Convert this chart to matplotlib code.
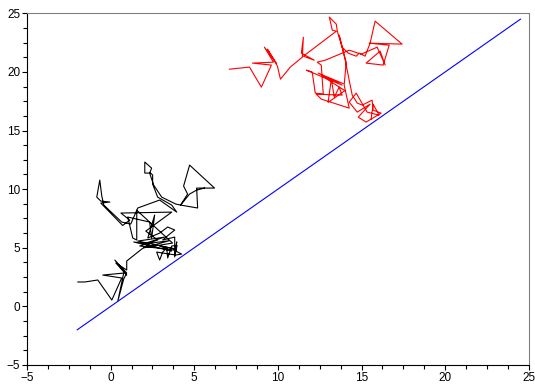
import numpy as np
import matplotlib
matplotlib.use("Agg")
import matplotlib.pyplot as plt
from matplotlib.ticker import MultipleLocator

plt.rcParams["font.family"] = ["Liberation Sans", "DejaVu Sans"]

# black walk
black_x = [-1.96, -1.54, -0.77, 0.07, 0.66, -0.47, 0.78, 0.43, 0.78, 0.96,
           0.25, 0.96, 0.31, 0.96, 0.96, 1.86, 2.33, 1.38, 3.65, 2.93,
           3.89, 1.62, 3.20, 1.90, 3.50, 2.00, 3.70, 1.56, 1.56, 1.32,
           1.02, 2.33, 2.45, 2.63, 2.22, 2.93, 3.41, 3.83, 3.53, 3.11,
           3.83, 3.83, 3.95, 3.85, 3.97, 3.65, 3.41, 3.35, 3.11, 2.93,
           2.75, 3.89, 4.24, 3.77, 1.74, 2.81, 2.10, 3.65, 0.61, 1.14,
           0.72, -0.59, -0.05, -0.59, -0.83, -0.65, -0.53, -0.41, 0.66, 1.20,
           1.62, 2.93, 3.95, 3.65, 2.81, 2.51, 2.51, 2.39, 2.04, 2.04,
           2.45, 2.33, 2.57, 3.05, 3.89, 4.18, 4.60, 4.36, 4.72, 6.21,
           5.14, 5.20, 4.18, 4.72, 5.14, 5.61]
black_y = [2.08, 2.08, 2.25, 0.54, 2.42, 2.67, 2.84, 0.46, 2.33, 2.84,
           3.95, 2.67, 3.70, 3.10, 3.87, 4.89, 5.32, 5.49, 4.72, 5.15,
           4.89, 5.57, 5.90, 5.30, 5.60, 5.00, 5.40, 8.20, 5.66, 5.83,
           7.62, 7.19, 5.83, 7.79, 5.83, 6.25, 6.77, 6.51, 6.17, 5.66,
           5.91, 4.21, 5.50, 4.40, 5.20, 5.15, 4.13, 4.98, 4.63, 3.95,
           4.63, 4.38, 4.46, 4.81, 5.15, 5.66, 6.42, 8.04, 7.96, 7.36,
           6.90, 8.81, 8.90, 8.98, 9.32, 10.77, 9.41, 8.64, 7.19, 7.02,
           8.39, 9.07, 8.04, 8.64, 9.32, 10.43, 11.20, 11.37, 11.37, 12.31,
           11.79, 11.37, 10.35, 9.32, 8.73, 8.64, 9.58, 10.26, 12.05, 10.09,
           10.09, 8.39, 8.64, 9.58, 9.92, 10.09]

# red walk
red_x = [7.10, 8.30, 9.01, 9.61, 8.48, 9.73, 9.19, 9.91, 9.37, 9.97,
         10.15, 10.74, 11.46, 11.52, 11.40, 12.17, 11.52, 13.49, 13.25, 13.07,
         13.49, 13.55, 13.84, 14.20, 14.68, 14.86, 15.21, 15.51, 15.81, 17.42,
         15.45, 16.65, 16.29, 15.27, 16.11, 16.41, 15.93, 14.98, 14.26, 12.83,
         12.35, 12.59, 12.71, 12.23, 12.05, 11.70, 13.84, 12.40, 13.90, 12.70,
         14.00, 13.00, 13.19, 13.37, 13.66, 13.84, 12.29, 12.59, 14.26, 13.96,
         14.08, 13.66, 14.02, 14.44, 14.74, 15.04, 15.63, 15.69, 16.17, 15.27,
         14.80, 15.51, 14.74, 14.26, 14.68, 15.33, 16.05, 15.69, 15.57]
red_y = [20.23, 20.41, 18.70, 20.58, 20.75, 20.83, 22.11, 20.75, 21.94, 20.49,
         19.38, 20.41, 21.26, 22.96, 21.60, 21.00, 21.34, 23.47, 23.56, 24.67,
         24.07, 23.47, 22.11, 21.60, 21.34, 21.60, 21.34, 22.45, 24.33, 22.37,
         22.45, 22.28, 20.58, 20.75, 21.77, 20.58, 22.11, 21.51, 21.85, 21.00,
         20.83, 20.58, 18.10, 18.19, 19.98, 20.15, 18.87, 19.90, 19.00, 19.60,
         18.40, 17.40, 19.38, 17.85, 18.70, 18.02, 18.10, 17.68, 16.91, 18.87,
         20.83, 23.13, 21.00, 18.02, 17.34, 17.17, 17.59, 16.74, 16.48, 15.72,
         16.14, 17.25, 16.57, 17.42, 18.19, 16.57, 16.31, 17.25, 15.97]

# diagonal reference line
line_x = [-2, 24.5]
line_y = [-2, 24.5]

fig = plt.figure(figsize=(5.35, 3.85), dpi=100)
ax = fig.add_axes([0.0505, 0.052, 0.938, 0.9135])

ax.plot(black_x, black_y, color="black", lw=0.8)
ax.plot(red_x, red_y, color="red", lw=0.8)
ax.plot(line_x, line_y, color="blue", lw=0.8)

ax.set_xlim(-5, 25)
ax.set_ylim(-5, 25)
ax.xaxis.set_major_locator(MultipleLocator(5))
ax.yaxis.set_major_locator(MultipleLocator(5))
ax.xaxis.set_minor_locator(MultipleLocator(1.25))
ax.yaxis.set_minor_locator(MultipleLocator(1.25))
ax.tick_params(which="both", direction="out", labelsize=8.5, pad=1.5, width=0.8)
ax.tick_params(which="major", length=3.5)
ax.tick_params(which="minor", length=3)

ax.spines["top"].set_color("#808080")
ax.spines["right"].set_color("#808080")
for s in ax.spines.values():
    s.set_linewidth(0.8)

fig.savefig("out.png", dpi=100)
